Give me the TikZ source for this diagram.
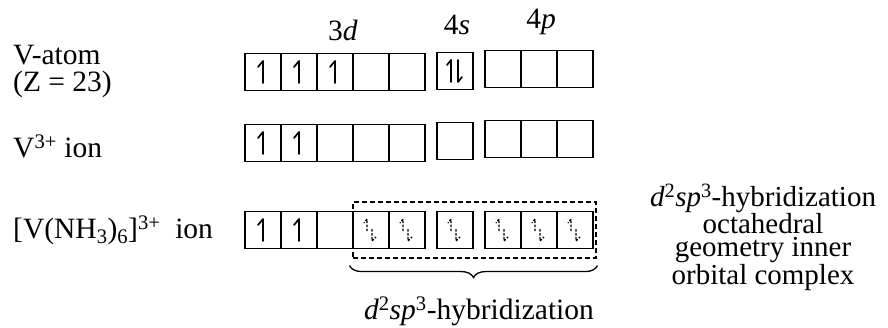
\documentclass[tikz,border=0pt]{standalone}
\usepackage{fontspec}
\setmainfont{Liberation Serif}
\usetikzlibrary{decorations.pathreplacing}
\newcommand{\uph}[1]{\draw[elec] ([shift={(0,11)}]#1.center) -- ([shift={(0,-11)}]#1.center) -- ([shift={(-5,-5)}]#1.center);}
\newcommand{\pairh}[1]{%
  \draw[elec] ([shift={(-4,11)}]#1.center) -- ([shift={(-4,-11)}]#1.center) -- ([shift={(-8,-6)}]#1.center);
  \draw[elec] ([shift={(3,-11)}]#1.center) -- ([shift={(3,11)}]#1.center) -- ([shift={(7,6)}]#1.center);}
\newcommand{\ligh}[1]{%
  \draw[lig] ([shift={(-4,1)}]#1.center) -- ([shift={(-4,-11)}]#1.center) -- ([shift={(-7,-7)}]#1.center);
  \draw[lig] ([shift={(1,-1)}]#1.center) -- ([shift={(1,11)}]#1.center) -- ([shift={(5,7)}]#1.center);}
\begin{document}
\begin{tikzpicture}[x=1pt,y=-1pt,
  orb/.style={draw, line width=1.6pt, minimum width=36pt, minimum height=37pt, inner sep=0pt, outer sep=0pt},
  elec/.style={line width=1.7pt, line cap=round, line join=round},
  lig/.style={line width=1.3pt, dash pattern=on 2.5pt off 1.5pt},
  dashbox/.style={draw, line width=1.1pt, dash pattern=on 5pt off 3pt, inner sep=0pt},
  lbl/.style={font=\fontsize{29.5}{27}\selectfont, inner sep=0pt},
  note/.style={font=\fontsize{29}{23.2}\selectfont, inner sep=0pt, align=center},
  brc/.style={decorate, decoration={brace, amplitude=12pt}, line width=1.3pt}]
\useasboundingbox (0,0) rectangle (888,327);
% headings
\node[lbl] (h3d) at (343,30) {3\textit{d}};
\node[lbl] (h4s) at (457,25) {4\textit{s}};
\node[lbl] (h4p) at (541,22) {4\textit{p}};
% row labels
\node[lbl, align=left, anchor=west] (l1) at (13,71) {V-atom\\(Z = 23)};
\node[lbl, anchor=west] (l2) at (13,146) {V\textsuperscript{3+} ion};
\node[lbl, anchor=west] (l3) at (13,230) {[V(NH\textsubscript{3})\textsubscript{6}]\textsuperscript{3+}\ \ ion};
% row 1
\foreach \i in {0,...,4} \node[orb] (a\i) at ({263+36*\i},72) {};
\node[orb] (as) at (455,71) {};
\foreach \i in {0,1,2} \node[orb] (ap\i) at ({503+36*\i},69) {};
\uph{a0}\uph{a1}\uph{a2}
\pairh{as}
% row 2
\foreach \i in {0,...,4} \node[orb] (b\i) at ({263+36*\i},143) {};
\node[orb] (bs) at (455,141) {};
\foreach \i in {0,1,2} \node[orb] (bp\i) at ({503+36*\i},139) {};
\uph{b0}\uph{b1}
% row 3
\foreach \i in {0,...,4} \node[orb] (c\i) at ({263+36*\i},230) {};
\node[orb] (cs) at (455,230) {};
\foreach \i in {0,1,2} \node[orb] (cp\i) at ({503+36*\i},230) {};
\uph{c0}\uph{c1}
\ligh{c3}\ligh{c4}\ligh{cs}\ligh{cp0}\ligh{cp1}\ligh{cp2}
\node[dashbox, minimum width=243pt, minimum height=56pt] (hyb) at (474.5,230) {};
\draw[brc] ([shift={(1,7)}]hyb.south east) -- ([shift={(-3,7)}]hyb.south west);
\node[lbl] (hl) at (479,311) {\textit{d}\textsuperscript{2}\textit{sp}\textsuperscript{3}-hybridization};
% right note
\node[note] (note) at (763,237) {\textit{d}\textsuperscript{2}\textit{sp}\textsuperscript{3}-hybridization\\octahedral\\geometry inner\\orbital complex};
\end{tikzpicture}
\end{document}
